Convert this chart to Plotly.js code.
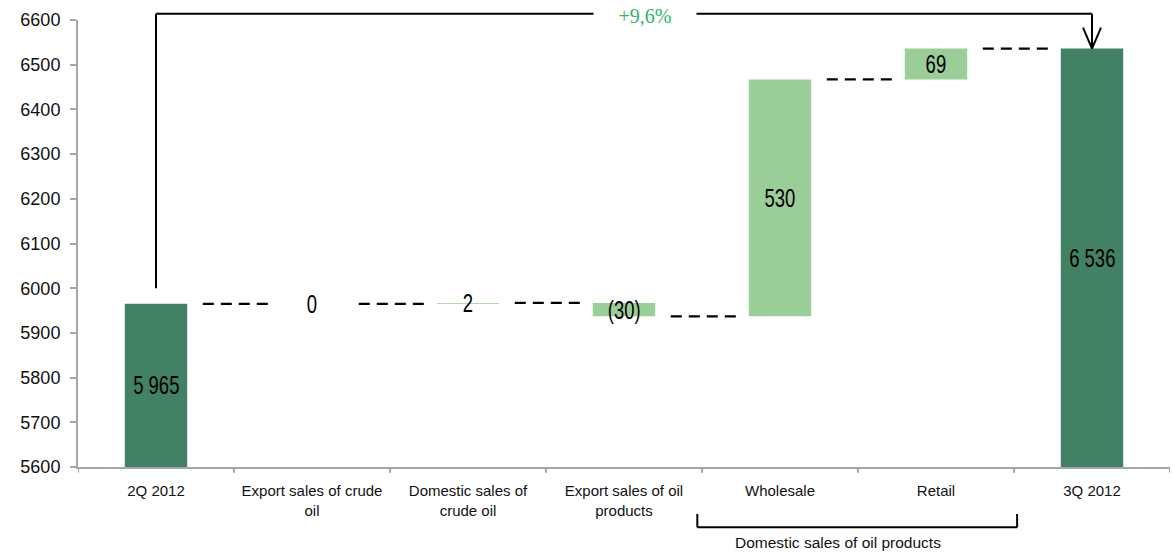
<!DOCTYPE html>
<html>
<head>
<meta charset="utf-8">
<script src="https://cdn.plot.ly/plotly-3.0.1.min.js"></script>
<style>html,body{margin:0;padding:0;background:#fff;}#chart{width:1173px;height:553px;}</style>
</head>
<body>
<div id="chart"></div>
<script>
const categories = ["2Q 2012", "Export sales of crude<br>oil", "Domestic sales of<br>crude oil", "Export sales of oil<br>products", "Wholesale", "Retail", "3Q 2012"];
const measures = ["absolute", "relative", "relative", "relative", "relative", "relative", "total"];
const values = [5965, 0, 2, -30, 530, 69, 6536];
const changeLabel = "+9,6%";
const groupLabel = "Domestic sales of oil products";

const yMin = 5600, yMax = 6600;
const darkGreen = "#438165", lightGreen = "#9bcd99";

// compute bases / tops
const bases = [], heights = [], tops = [];
let running = 0;
values.forEach((v, i) => {
  if (measures[i] === "absolute" || measures[i] === "total") {
    bases.push(yMin); heights.push(v - yMin); running = v;
  } else {
    bases.push(v >= 0 ? running : running + v); heights.push(Math.abs(v)); running += v;
  }
  tops.push(running);
});
const xIdx = categories.map((c, i) => i);
const colors = measures.map(m => m === "relative" ? lightGreen : darkGreen);

function fmt(v) {
  const s = Math.abs(v).toString().replace(/\B(?=(\d{3})+(?!\d))/g, " ");
  return v < 0 ? "(" + s + ")" : s;
}

const trace = {
  type: "bar",
  x: xIdx,
  y: heights,
  base: bases,
  width: 0.4,
  marker: {color: colors, line: {width: 0}},
  hoverinfo: "none",
  showlegend: false
};

const shapes = [];
const annotations = [];
// connectors
for (let i = 0; i < values.length - 1; i++) {
  shapes.push({type: "line", xref: "x", yref: "y", x0: i + 0.3, x1: i + 0.72, y0: tops[i], y1: tops[i],
    line: {color: "#000", width: 2.2, dash: "11px,7px"}});
}
// value labels
values.forEach((v, i) => {
  const mid = bases[i] + heights[i] / 2;
  annotations.push({xref: "x", yref: "y", x: i, y: mid, text: fmt(v), showarrow: false,
    font: {family: "Liberation Sans, Arial", size: 25, color: "#000"},
    yanchor: "middle", xanchor: "center"});
});
// top bracket with arrow
const last = values.length - 1;
const topY = 1.014;
shapes.push({type: "line", xref: "x", yref: "y", x0: 0, x1: 0, y0: values[0] + 35, y1: yMax, line: {color: "#000", width: 2}});
shapes.push({type: "line", xref: "x", yref: "paper", x0: 0, x1: 0, y0: 1, y1: topY, line: {color: "#000", width: 2}});
shapes.push({type: "line", xref: "x", yref: "paper", x0: 0, x1: last, y0: topY, y1: topY, line: {color: "#000", width: 2}});
shapes.push({type: "line", xref: "x", yref: "paper", x0: last, x1: last, y0: topY, y1: (values[last] - yMin) / (yMax - yMin), line: {color: "#000", width: 2}});
shapes.push({type: "line", xref: "x", xsizemode: "pixel", xanchor: last, x0: -9, x1: 0,
  yref: "y", ysizemode: "pixel", yanchor: values[last], y0: 21, y1: 0, line: {color: "#000", width: 2}});
shapes.push({type: "line", xref: "x", xsizemode: "pixel", xanchor: last, x0: 9, x1: 0,
  yref: "y", ysizemode: "pixel", yanchor: values[last], y0: 21, y1: 0, line: {color: "#000", width: 2}});
annotations.push({xref: "paper", yref: "paper", x: 0.5195, y: topY, text: changeLabel, showarrow: false,
  bgcolor: "#fff", width: 100, height: 24, yanchor: "middle", xanchor: "center", yshift: -2,
  font: {family: "Liberation Serif, Times New Roman, serif", size: 20, color: "#2eb56a"}});
// bottom bracket
const bx0 = 3.47, bx1 = 5.52;
shapes.push({type: "line", xref: "x", yref: "paper", x0: bx0, x1: bx0, y0: -0.105, y1: -0.135, line: {color: "#000", width: 2}});
shapes.push({type: "line", xref: "x", yref: "paper", x0: bx1, x1: bx1, y0: -0.105, y1: -0.135, line: {color: "#000", width: 2}});
shapes.push({type: "line", xref: "x", yref: "paper", x0: bx0, x1: bx1, y0: -0.135, y1: -0.135, line: {color: "#000", width: 2}});
annotations.push({xref: "x", yref: "paper", x: 4.37, y: -0.168, text: groupLabel, showarrow: false,
  yanchor: "middle", xanchor: "center", font: {family: "Liberation Sans, Arial", size: 15.5, color: "#111"}});
// x boundary ticks
for (let i = 0; i <= categories.length; i++) {
  shapes.push({type: "line", xref: "x", yref: "paper", x0: i - 0.5, x1: i - 0.5, y0: 0, y1: -0.013, line: {color: "#a6a6a6", width: 2}});
}

const layout = {
  width: 1173, height: 553,
  margin: {l: 78, r: 3, t: 20, b: 86},
  paper_bgcolor: "#fff", plot_bgcolor: "#fff",
  xaxis: {
    type: "linear", range: [-0.5, 6.5],
    tickmode: "array", tickvals: xIdx, ticktext: categories,
    showgrid: false, zeroline: false,
    showline: true, linecolor: "#a6a6a6", linewidth: 2,
    ticks: "", ticklabelstandoff: 9,
    tickfont: {family: "Liberation Sans, Arial", size: 15, color: "#111"}
  },
  yaxis: {
    range: [yMin, yMax], dtick: 100, tick0: yMin,
    showgrid: false, zeroline: false,
    showline: true, linecolor: "#a6a6a6", linewidth: 2,
    ticks: "outside", ticklen: 6, tickcolor: "#a6a6a6", tickwidth: 2,
    ticklabelstandoff: 6,
    tickfont: {family: "Liberation Sans, Arial", size: 18, color: "#111"}
  },
  shapes: shapes,
  annotations: annotations
};

Plotly.newPlot("chart", [trace], layout, {displayModeBar: false, staticPlot: true}).then(() => {
  document.querySelectorAll("#chart g.annotation").forEach(g => {
    const idx = +g.getAttribute("data-index");
    if (idx < values.length) {
      const t = g.querySelector("text");
      if (t) {
        t.style.transformBox = "fill-box";
        t.style.transformOrigin = "center";
        t.style.transform = "scaleX(0.74)";
      }
    }
  });
});
</script>
</body>
</html>
